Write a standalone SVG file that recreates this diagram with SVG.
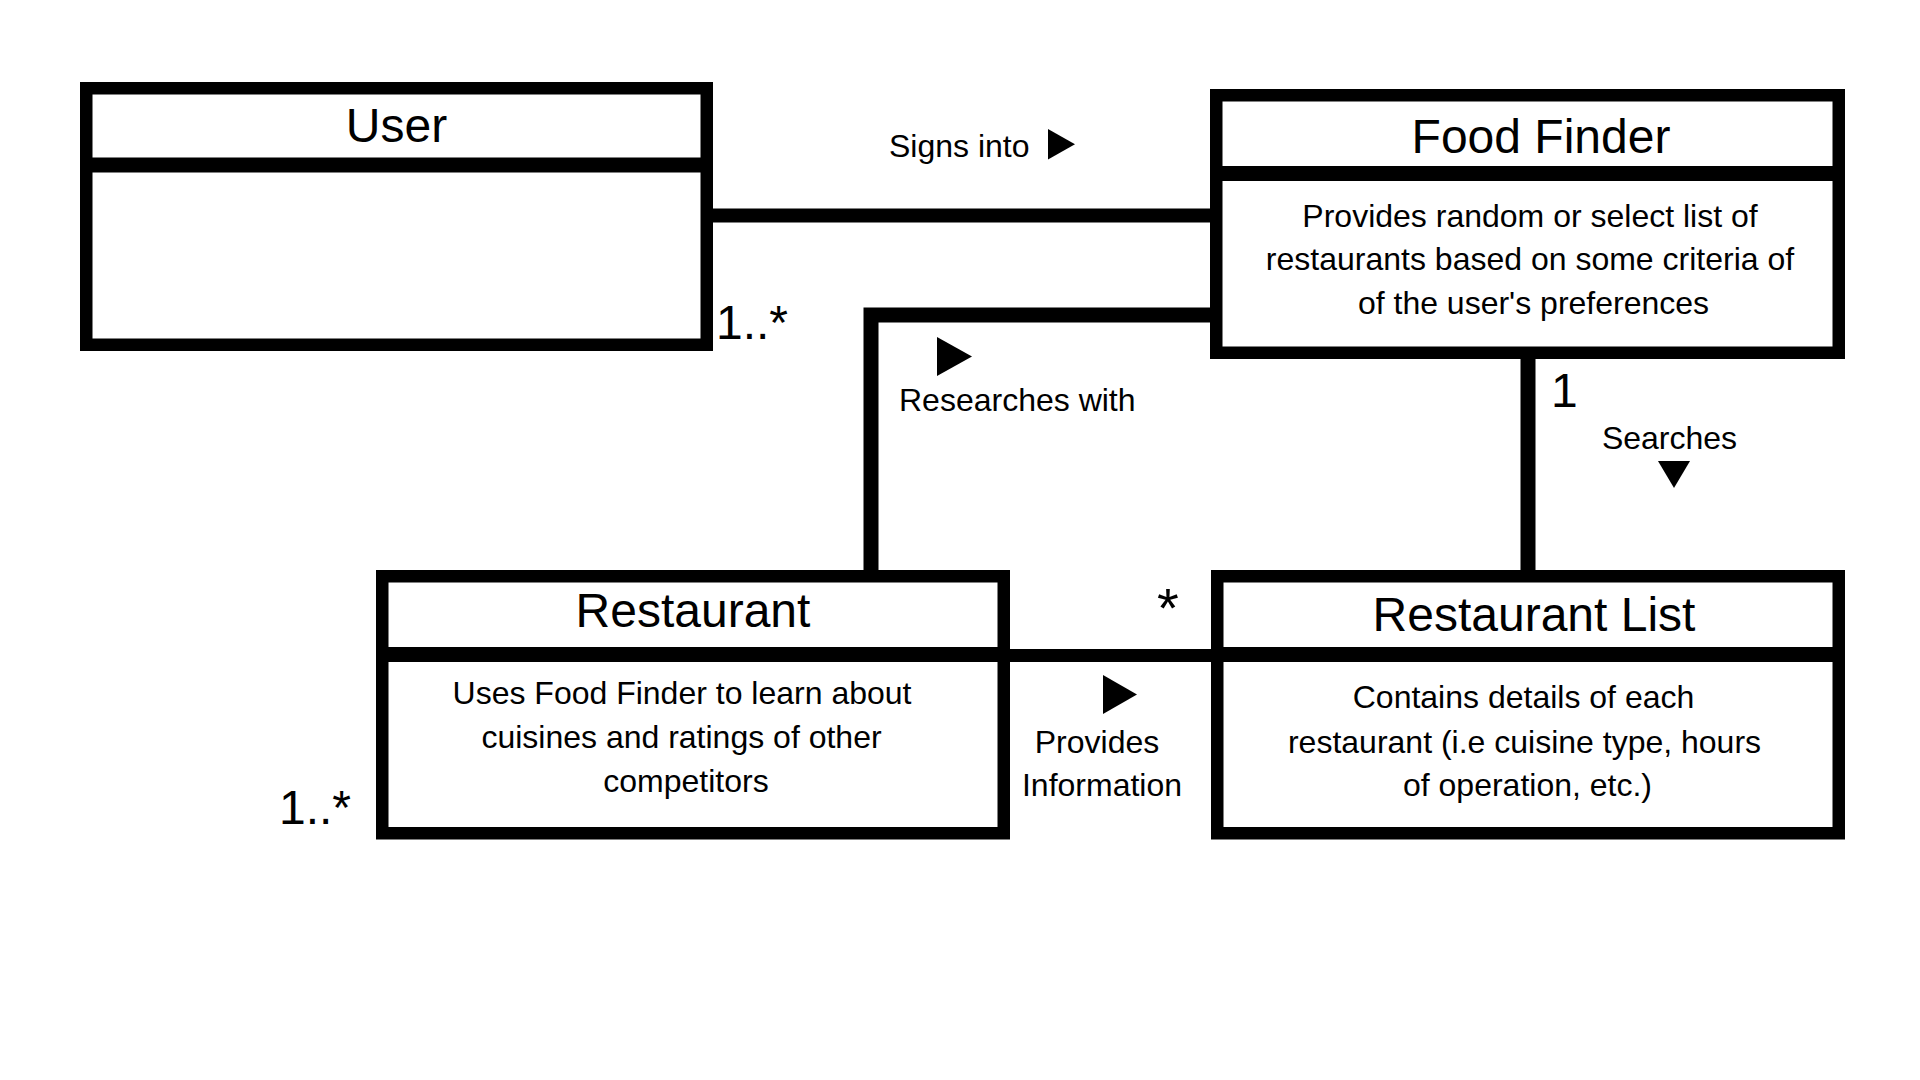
<svg xmlns="http://www.w3.org/2000/svg" width="1920" height="1080" viewBox="0 0 1920 1080">
<style>
.box{fill:#ffffff;stroke:#000000;stroke-width:12.5}
.div{stroke:#000000;stroke-width:15}
.conn{fill:none;stroke:#000000;stroke-linejoin:miter;stroke-linecap:butt}
text{font-family:"Liberation Sans",Arial,sans-serif;fill:#000000}
.title{font-size:48px;text-anchor:middle}
.body{font-size:32px;text-anchor:middle}
.lbl{font-size:32px}
.mult{font-size:48px}
.star{font-size:56px}
.tri{fill:#000000}
</style>
<rect width="1920" height="1080" fill="#ffffff"/>
<g id="connectors">
<path class="conn" d="M713,215.5 H1210" stroke-width="14"/>
<path class="conn" d="M1210,315 H871 V571" stroke-width="15"/>
<path class="conn" d="M1528,359 V577" stroke-width="15"/>
<path class="conn" d="M930,655.5 H1275" stroke-width="13"/>
</g>
<g id="user">
<rect class="box" x="86.25" y="88.25" width="620.5" height="256.5"/>
<line class="div" x1="86" y1="165" x2="707" y2="165"/>
<text class="title" x="396.5" y="142">User</text>
</g>
<g id="food-finder">
<rect class="box" x="1216.25" y="95.25" width="622.5" height="257.5"/>
<line class="div" x1="1216" y1="173.5" x2="1839" y2="173.5"/>
<text class="title" x="1541" y="152.5">Food Finder</text>
<text class="body" x="1530" y="226.5">Provides random or select list of</text>
<text class="body" x="1530" y="270">restaurants based on some criteria of</text>
<text class="body" x="1533.5" y="313.5">of the user's preferences</text>
</g>
<g id="restaurant">
<rect class="box" x="382.25" y="576.25" width="621.5" height="257"/>
<line class="div" x1="382" y1="654.5" x2="1004" y2="654.5"/>
<text class="title" x="693" y="627">Restaurant</text>
<text class="body" x="682" y="704">Uses Food Finder to learn about</text>
<text class="body" x="681.5" y="748">cuisines and ratings of other</text>
<text class="body" x="686" y="792">competitors</text>
</g>
<g id="restaurant-list">
<rect class="box" x="1217.25" y="576.25" width="621.5" height="257"/>
<line class="div" x1="1217" y1="654.5" x2="1839" y2="654.5"/>
<text class="title" x="1534" y="631">Restaurant List</text>
<text class="body" x="1523.5" y="708">Contains details of each</text>
<text class="body" x="1524.5" y="752.5">restaurant (i.e cuisine type, hours</text>
<text class="body" x="1527.5" y="796">of operation, etc.)</text>
</g>
<g id="labels">
<text class="lbl" x="889" y="157">Signs into</text>
<polygon class="tri" points="1048,129 1048,159.5 1075,144.25"/>
<text class="mult" x="716" y="339">1..*</text>
<text class="lbl" x="899" y="411">Researches with</text>
<polygon class="tri" points="937,337 937,376 972,356.5"/>
<text class="mult" x="1551" y="407">1</text>
<text class="lbl" x="1669.5" y="448.5" text-anchor="middle">Searches</text>
<polygon class="tri" points="1658,461 1690,461 1674,488"/>
<text class="star" x="1157" y="627">*</text>
<text class="mult" x="279" y="823.5">1..*</text>
<polygon class="tri" points="1103,675 1103,714 1137,694.5"/>
<text class="lbl" x="1097" y="752.5" text-anchor="middle">Provides</text>
<text class="lbl" x="1102" y="796" text-anchor="middle">Information</text>
</g>
</svg>
